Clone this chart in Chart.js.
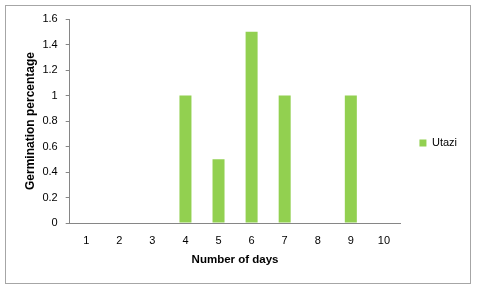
<!DOCTYPE html>
<html>
<head>
<meta charset="utf-8">
<script src="https://cdn.jsdelivr.net/npm/chart.js@4.4.0/dist/chart.umd.min.js"></script>
<style>
  body { margin: 0; background: #fff; }
  #wrap { width: 478px; height: 290px; }
</style>
</head>
<body>
<div id="wrap"><canvas id="myBarChart" width="478" height="290"></canvas></div>
<script>
var days = ['1', '2', '3', '4', '5', '6', '7', '8', '9', '10'];
var utazi = [0, 0, 0, 1, 0.5, 1.5, 1, 0, 1, 0];
var yTicks = [0, 0.2, 0.4, 0.6, 0.8, 1, 1.2, 1.4, 1.6];

var fontFamily = "'Liberation Sans', Arial, sans-serif";

// grey frame round the whole chart, like the spreadsheet export
var frame = {
    id: 'frame',
    beforeDraw: function (chart) {
        var ctx = chart.ctx;
        ctx.save();
        ctx.fillStyle = '#ffffff';
        ctx.fillRect(0, 0, chart.width, chart.height);
        ctx.strokeStyle = '#a6a6a6';
        ctx.lineWidth = 1;
        ctx.strokeRect(5.5, 5.5, 465, 278);
        ctx.restore();
    }
};

var ctx = document.getElementById('myBarChart').getContext('2d');
var myBarChart = new Chart(ctx, {
    type: 'bar',
    data: {
        labels: days,
        datasets: [{
            label: 'Utazi',
            backgroundColor: '#92d050',
            borderWidth: 0,
            data: utazi,
            barPercentage: 0.55,
            categoryPercentage: 0.66
        }]
    },
    options: {
        responsive: false,
        animation: false,
        layout: { padding: { left: 23, right: 11, top: 19, bottom: 23 } },
        plugins: {
            tooltip: { enabled: false },
            legend: {
                position: 'right',
                labels: {
                    boxWidth: 7,
                    boxHeight: 7,
                    padding: 19,
                    color: '#000',
                    font: { family: fontFamily, size: 11 }
                }
            }
        },
        scales: {
            x: {
                grid: { display: false, drawTicks: false, tickLength: 0 },
                border: { display: true, color: '#868686' },
                ticks: { color: '#000', padding: 11, font: { family: fontFamily, size: 11 } },
                title: {
                    display: true,
                    text: 'Number of days',
                    color: '#000',
                    padding: { top: -5, bottom: 0 },
                    font: { family: fontFamily, size: 11.5, weight: 'bold' }
                }
            },
            y: {
                min: 0,
                max: 1.6,
                afterBuildTicks: function (axis) {
                    axis.ticks = yTicks.map(function (v) { return { value: v }; });
                },
                grid: { drawOnChartArea: false, drawTicks: true, tickLength: 4, color: '#868686' },
                border: { display: true, color: '#868686' },
                ticks: {
                    color: '#000',
                    padding: 8,
                    font: { family: fontFamily, size: 11 },
                    callback: function (v) { return String(+Number(v).toFixed(1)); }
                },
                title: {
                    display: true,
                    text: 'Germination percentage',
                    color: '#000',
                    padding: { top: 0, bottom: -3 },
                    font: { family: fontFamily, size: 12, weight: 'bold' }
                }
            }
        }
    },
    plugins: [frame]
});
</script>
</body>
</html>
